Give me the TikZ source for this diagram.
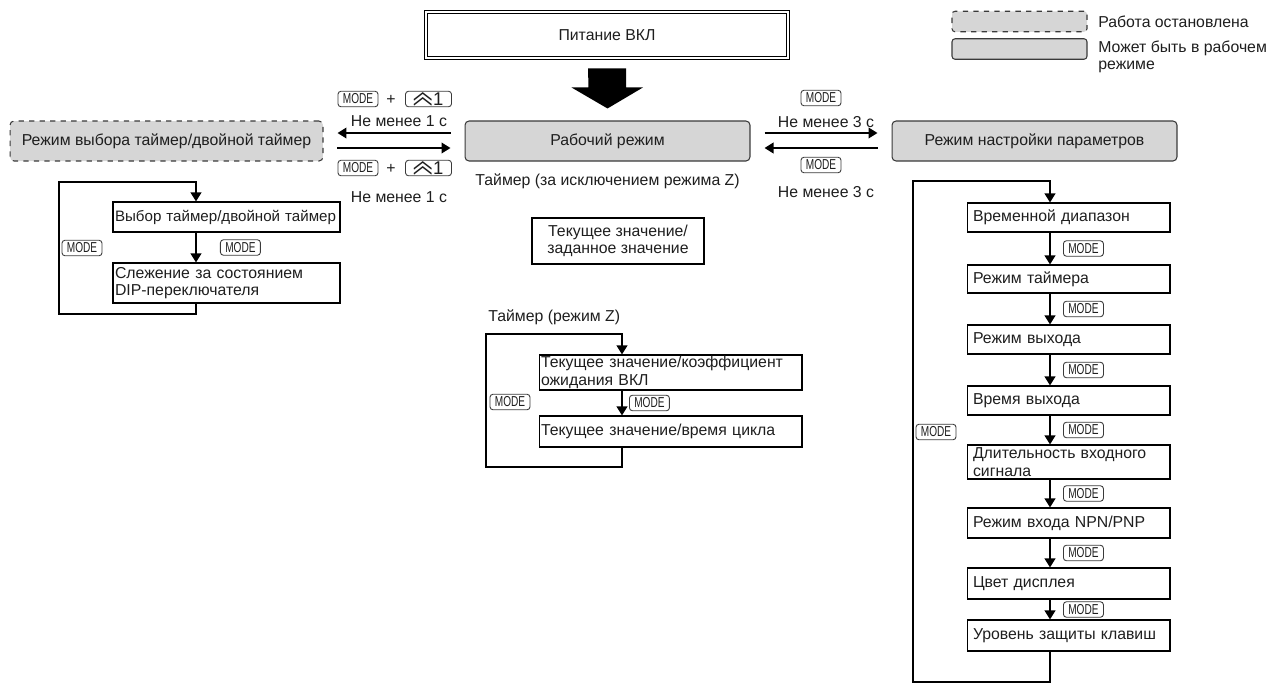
\documentclass[tikz,border=0pt]{standalone}
\usepackage{fontspec}
\setmainfont{Liberation Sans}
\newfontfamily\keyfont[FakeStretch=0.7]{Liberation Sans}
\newfontfamily\cjk{Noto Sans CJK SC}
\usetikzlibrary{arrows.meta,positioning,calc}
\definecolor{modefill}{HTML}{D6D6D6}
\definecolor{modeline}{HTML}{3A3A3A}
\definecolor{textdark}{HTML}{1E1E1E}
\newcommand\upsign{\smash{\raisebox{0.12em}{\scalebox{1.05}[1.7]{\cjk ︽}}}}
\tikzset{
  every node/.style={font=\fontsize{9}{10}\selectfont, text=textdark},
  mode/.style={rectangle, rounded corners=0.08cm, draw=modeline,
    fill=modefill, line width=0.6pt, minimum width=5.7cm,
    minimum height=0.8cm, align=center},
  stopped/.style={mode, dashed},
  legendbox/.style={rectangle, rounded corners=0.06cm, draw=modeline,
    fill=modefill, line width=0.6pt, minimum width=2.7cm,
    minimum height=0.41cm},
  stage/.style={rectangle, draw=black, line width=0.6pt, align=left,
    text width=#1, inner xsep=0.04cm, inner ysep=0pt},
  key/.style={rectangle, rounded corners=0.06cm, draw=modeline,
    line width=0.5pt, inner sep=0pt, minimum width=0.8cm,
    minimum height=0.31cm, font=\keyfont\fontsize{8.2}{8}\selectfont},
  upkey/.style={key, minimum width=0.92cm, font=\fontsize{10.5}{10}\selectfont},
  flow/.style={-{Triangle[length=1.8mm,width=2.1mm]}, line width=1.2pt,
    draw=black},
  loopline/.style={line width=1.3pt, draw=black},
}

\begin{document}
\begin{tikzpicture}[x=0.02cm,y=-0.02cm]
\useasboundingbox (0,0) rectangle (1281,687);

% ---- Power on and the three modes ----------------------------------------
\node[draw, double, double distance=0.05cm, line width=0.5pt,
  minimum width=7.25cm, minimum height=0.92cm] (pwr) at (607,35) {Питание ВКЛ};
\node[mode] (run) at (607.5,141) {Рабочий режим};
\node[stopped, minimum width=6.26cm] (tsel) at (166.5,141)
  {Режим выбора таймер/двойной таймер};
\node[mode] (prm) at (1034.5,141) {Режим настройки параметров};

\fill[black] ($(pwr.south)+(-19,10)$) -- ++(38,0) -- ++(0,19) -- ++(17,0)
  -- ($(run.north)+(0,-12)$) -- ++(-36,-21) -- ++(17,0) -- cycle;

% ---- Legend --------------------------------------------------------------
\node[legendbox, dashed] (lgstop) at (1019.5,21.5) {};
\node[legendbox] (lgrun) at (1019.5,49) {};
\node[anchor=west, inner sep=0pt] (lgstoptxt) at (1098,22) {Работа остановлена};
\node[anchor=north west, inner sep=0pt, align=left,
  font=\fontsize{9}{9.5}\selectfont] (lgruntxt) at (1098,41)
  {Может быть в рабочем\\режиме};

% ---- Transitions between the modes ---------------------------------------
\draw[flow, shorten >=0.28cm, shorten <=0.28cm]
  ([yshift=0.16cm]run.west) -- ([yshift=0.16cm]run.west -| tsel.east);
\draw[flow, shorten >=0.28cm, shorten <=0.28cm]
  ([yshift=-0.14cm]tsel.east) -- ([yshift=-0.14cm]tsel.east -| run.west);
\draw[flow, shorten >=0.28cm, shorten <=0.28cm]
  ([yshift=0.16cm]run.east) -- ([yshift=0.16cm]run.east -| prm.west);
\draw[flow, shorten >=0.28cm, shorten <=0.28cm]
  ([yshift=-0.14cm]prm.west) -- ([yshift=-0.14cm]prm.west -| run.east);

\node[key] (lkey1) at (358,99) {MODE};
\node (lplus1) at (391,100) {+};
\node[upkey] (lup1) at (428.5,99) {\upsign1};
\node (lmin1) at (399,121) {Не менее 1 с};
\node[key] (lkey2) at (358,168) {MODE};
\node (lplus2) at (391,169) {+};
\node[upkey] (lup2) at (428.5,168) {\upsign1};
\node (lmin2) at (399,197) {Не менее 1 с};

\node[key] (rkey1) at (821,98) {MODE};
\node (rmin1) at (826,122) {Не менее 3 с};
\node[key] (rkey2) at (821,165) {MODE};
\node (rmin2) at (826,192) {Не менее 3 с};

% ---- Run mode ------------------------------------------------------------
\node (runnote) at (607.5,181) {Таймер (за исключением режима Z)};
\node[draw, line width=0.6pt, align=center, minimum width=3.44cm,
  minimum height=0.92cm, inner sep=0pt] (cur) at (618,241)
  {Текущее значение/\\заданное значение};

\node[anchor=west, inner sep=0pt] (znote) at (488,317) {Таймер (режим Z)};
\node[stage=5.18cm, minimum height=0.7cm] (zwait) at (670.5,372.5)
  {Текущее значение/коэффициент\\ожидания ВКЛ};
\node[stage=5.18cm, minimum height=0.62cm] (zcyc) at (670.5,431.5)
  {Текущее значение/время цикла};

\coordinate (marr) at (622,334);
\coordinate (mfar) at (486,467);
\draw[loopline, flow] (marr |- zcyc.south) |- (mfar) |- (marr)
  -- (marr |- zwait.north);
\draw[flow] (marr |- zwait.south) -- (marr |- zcyc.north)
  node[key, midway, right=0.14cm] (zkey) {MODE};
\node[key] (zloopkey) at (510,402) {MODE};

% ---- Timer / twin timer selection ----------------------------------------
\node[stage=4.46cm, minimum height=0.6cm, font=\fontsize{8.6}{10}\selectfont]
  (sel) at (226.5,217) {\mbox{Выбор таймер/двойной таймер}};
\node[stage=4.46cm, minimum height=0.8cm] (dip) at (226.5,283)
  {Слежение за состоянием\\DIP-переключателя};

\coordinate (larr) at (196,182);
\coordinate (lfar) at (59,314);
\draw[loopline, flow] (larr |- dip.south) |- (lfar) |- (larr)
  -- (larr |- sel.north);
\draw[flow] (larr |- sel.south) -- (larr |- dip.north)
  node[key, midway, right=0.48cm] (selkey) {MODE};
\node[key] (lloopkey) at (82,248) {MODE};

% ---- Parameter setting ---------------------------------------------------
\node[stage=3.82cm, inner xsep=0.12cm, minimum height=0.58cm] (rng) at (1068.5,217.5)
  {Временной диапазон};
\node[stage=3.82cm, inner xsep=0.12cm, minimum height=0.56cm] (tmode) at (1068.5,279)
  {Режим таймера};
\node[stage=3.82cm, inner xsep=0.12cm, minimum height=0.58cm] (omode) at (1068.5,339.5)
  {Режим выхода};
\node[stage=3.82cm, inner xsep=0.12cm, minimum height=0.58cm] (otime) at (1068.5,400.5)
  {Время выхода};
\node[stage=3.82cm, inner xsep=0.12cm, minimum height=0.68cm] (inlen) at (1068.5,462)
  {Длительность входного\\сигнала};
\node[stage=3.82cm, inner xsep=0.12cm, minimum height=0.6cm] (npn) at (1068.5,523)
  {Режим входа NPN/PNP};
\node[stage=3.82cm, inner xsep=0.12cm, minimum height=0.62cm] (color) at (1068.5,583.5)
  {Цвет дисплея};
\node[stage=3.82cm, inner xsep=0.12cm, minimum height=0.62cm] (lock) at (1068.5,635.5)
  {Уровень защиты клавиш};

\coordinate (rarr) at (1050,181);
\coordinate (rfar) at (913,682);
\draw[loopline, flow] (rarr |- lock.south) |- (rfar) |- (rarr)
  -- (rarr |- rng.north);
\foreach \a/\b in {rng/tmode,tmode/omode,omode/otime,otime/inlen,
                   inlen/npn,npn/color,color/lock}
  \draw[flow] (rarr |- \a.south) -- (rarr |- \b.north)
    node[key, midway, right=0.26cm] (k\a) {MODE};
\node[key] (rloopkey) at (936,432) {MODE};

\end{tikzpicture}
\end{document}
